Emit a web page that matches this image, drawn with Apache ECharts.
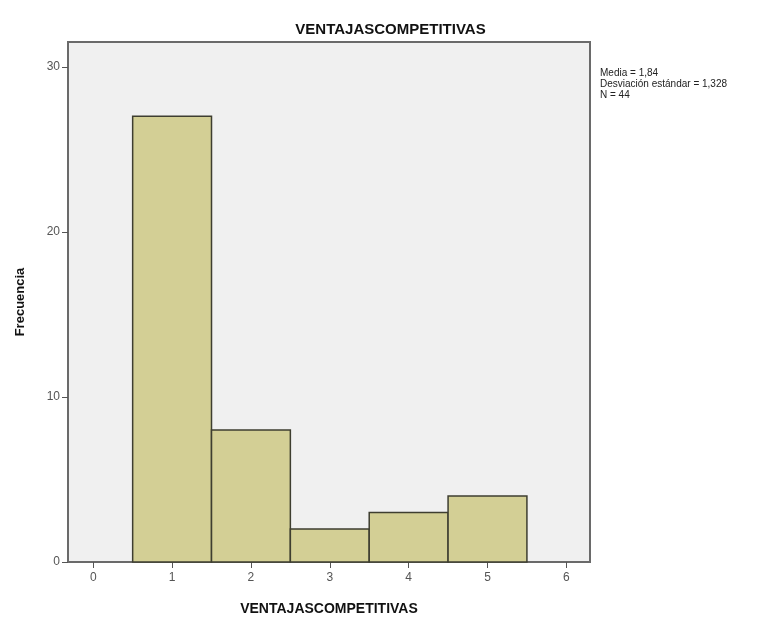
<!DOCTYPE html>
<html><head><meta charset="utf-8">
<script src="https://cdn.jsdelivr.net/npm/echarts@6/dist/echarts.min.js"></script>
<style>html,body{margin:0;padding:0;background:#fff}#c{width:781px;height:617px}</style>
</head><body><div id="c"></div>
<script>
const categories = [1, 2, 3, 4, 5];
const frequencies = [27, 8, 2, 3, 4];
const xTicks = [0, 1, 2, 3, 4, 5, 6];
const yTicks = [0, 10, 20, 30];
const statsLines = ['Media = 1,84', 'Desviación estándar = 1,328', 'N = 44'];
const titleText = 'VENTAJASCOMPETITIVAS';

const chart = echarts.init(document.getElementById('c'));
const data = categories.map((c, i) => [c, frequencies[i]]);
chart.setOption({
  animation: false,
  title: {text: titleText, left: 'center', top: 17,
    textStyle: {fontFamily: 'Liberation Sans', fontSize: 15, fontWeight: 'bold', color: '#111'}},
  grid: {left: 68, top: 42, right: 191, bottom: 55, show: true, backgroundColor: '#f0f0f0',
    borderColor: '#6a6a6a', borderWidth: 2, outerBoundsMode: 'none', containLabel: false},
  xAxis: {type: 'value', min: -0.32, max: 6.3,
    name: titleText, nameLocation: 'middle', nameGap: 40,
    nameTextStyle: {fontFamily: 'Liberation Sans', fontSize: 14, fontWeight: 'bold', color: '#111'},
    axisLine: {show: true, onZero: false, lineStyle: {color: '#6a6a6a', width: 2}},
    axisTick: {show: true, length: 6, lineStyle: {color: '#555'}, customValues: xTicks},
    axisLabel: {customValues: xTicks, color: '#555', fontFamily: 'Liberation Sans', fontSize: 12, margin: 10},
    splitLine: {show: false}},
  yAxis: {type: 'value', min: 0, max: 31.5,
    name: 'Frecuencia', nameLocation: 'middle', nameGap: 41,
    nameTextStyle: {fontFamily: 'Liberation Sans', fontSize: 13, fontWeight: 'bold', color: '#111'},
    axisLine: {show: true, onZero: false, lineStyle: {color: '#6a6a6a', width: 2}},
    axisTick: {show: true, length: 6, lineStyle: {color: '#555'}, customValues: yTicks},
    axisLabel: {customValues: yTicks, color: '#555', fontFamily: 'Liberation Sans', fontSize: 12, margin: 8},
    splitLine: {show: false}},
  series: [{
    type: 'custom',
    data: data,
    renderItem: function (params, api) {
      const x = api.value(0), y = api.value(1);
      const p0 = api.coord([x - 0.5, y]);
      const p1 = api.coord([x + 0.5, 0]);
      return {type: 'rect',
        shape: {x: p0[0], y: p0[1], width: p1[0] - p0[0], height: p1[1] - p0[1]},
        style: {fill: '#d3cf95', stroke: '#3e3e30', lineWidth: 1.5}};
    }
  }],
  graphic: [{type: 'text', left: 600, top: 68,
    style: {text: statsLines.join('\n'), fontFamily: 'Liberation Sans', fontSize: 10, lineHeight: 11, fill: '#222'}}]
});
</script></body></html>
